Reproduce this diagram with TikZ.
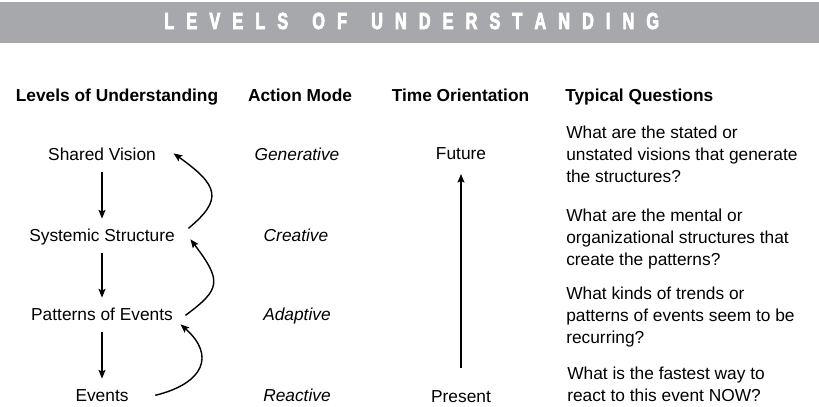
\documentclass[tikz,border=0pt]{standalone}
\usepackage{fontspec}
\setmainfont{Liberation Sans}
\newfontfamily\titlefont[FakeStretch=0.7,FakeBold=3]{Liberation Sans Bold}
\usetikzlibrary{arrows.meta}
\definecolor{barGray}{RGB}{167,168,171}
\begin{document}
\begin{tikzpicture}[x=0.75pt,y=0.75pt,font=\fontsize{13}{16.5}\selectfont,
  lvl/.style={anchor=base,text height=10pt,text depth=3pt},
  hd/.style={anchor=base,font=\fontsize{13}{16.5}\selectfont\bfseries},
  md/.style={anchor=base,font=\fontsize{13}{16.5}\selectfont\itshape},
  qs/.style={anchor=west,align=left,inner sep=0pt},
  ar/.style={line width=1.05pt,-{Stealth[length=6.5pt,width=5.2pt,inset=1.2pt]}}]
  \useasboundingbox (0,0) rectangle (819,407);
  % title bar
  \fill[barGray] (0,364) rectangle (819,405);
  \node[text=white,inner sep=0pt] (ttl) at (411.75,386)
    {\titlefont\fontsize{17.5}{19}\selectfont\makebox[371pt][s]{L\hfill E\hfill V\hfill E\hfill L\hfill S\hfill\hfill O\hfill F\hfill\hfill U\hfill N\hfill D\hfill E\hfill R\hfill S\hfill T\hfill A\hfill N\hfill D\hfill I\hfill N\hfill G}};
  % column heads
  \node[hd] (h1) at (117,305.5) {Levels of Understanding};
  \node[hd] (h2) at (300,305.5) {Action Mode};
  \node[hd] (h3) at (460.5,305.5) {Time Orientation};
  \node[hd,anchor=base west,inner sep=0pt] (h4) at (565,305.5) {Typical Questions};
  % levels
  \node[lvl] (sv) at (102,246) {Shared Vision};
  \node[lvl] (ss) at (102,165) {Systemic Structure};
  \node[lvl] (pe) at (102,86) {Patterns of Events};
  \node[lvl] (ev) at (102,5) {Events};
  \draw[ar,shorten <=2pt,shorten >=4pt] (sv.south) -- (ss.north);
  \draw[ar,shorten <=2pt,shorten >=4pt] (ss.south) -- (pe.north);
  \draw[ar,shorten <=2pt,shorten >=4pt] (pe.south) -- (ev.north);
  \draw[ar] ([shift={(9,9)}]ss.east) .. controls +(35,29) and +(45,-32) .. ([shift={(13,3)}]sv.east);
  \draw[ar] ([shift={(8,1)}]pe.east) .. controls +(35,26) and +(32,-42) .. ([shift={(11,-2)}]ss.east);
  \draw[ar] ([shift={(22,2)}]ev.east) .. controls +(49,12) and +(35,-31) .. ([shift={(3,-8)}]pe.east);
  % action mode
  \node[md] (m1) at (297,246) {Generative};
  \node[md] (m2) at (296,165) {Creative};
  \node[md] (m3) at (297,86) {Adaptive};
  \node[md] (m4) at (297,5) {Reactive};
  % time
  \node[lvl] (fu) at (461,247.5) {Future};
  \node[lvl] (pr) at (461,4.5) {Present};
  \draw[ar,shorten <=12pt,shorten >=4.3pt] (pr.north) -- (fu.south);
  % questions
  \node[qs] (q1) at (566,252.2) {What are the stated or\\unstated visions that generate\\the structures?};
  \node[qs] (q2) at (566,168) {What are the mental or\\organizational structures that\\create the patterns?};
  \node[qs] (q3) at (566,90) {What kinds of trends or\\patterns of events seem to be\\recurring?};
  \node[qs] (q4) at (567,22.8) {What is the fastest way to\\react to this event NOW?};
\end{tikzpicture}
\end{document}
